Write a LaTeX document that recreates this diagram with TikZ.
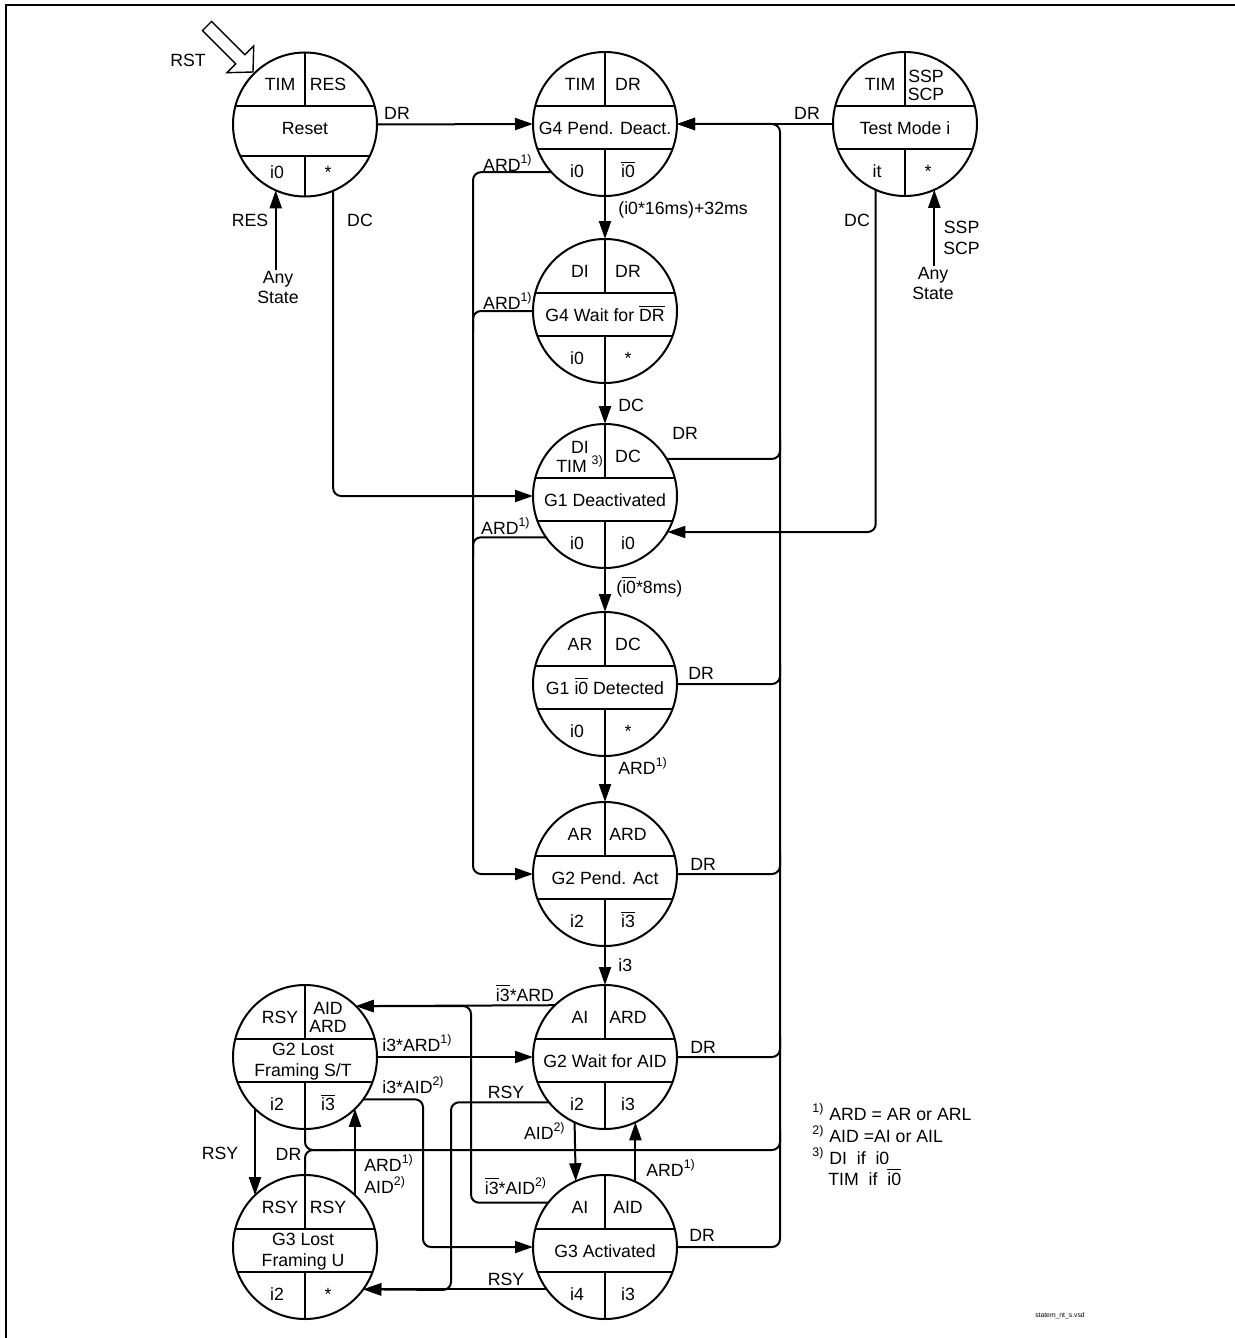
\documentclass[tikz,border=0pt]{standalone}
\usepackage{fontspec}
\setmainfont{Liberation Sans}
\usetikzlibrary{arrows.meta,calc}
\newcommand\ovl[1]{$\overline{\mbox{#1}}$}
\tikzset{
  conn/.style={line width=1pt, -{Triangle[length=9pt,width=6pt]}},
  plainln/.style={line width=1pt},
  stline/.style={line width=1pt},
  stcirc/.style={circle, draw, line width=1pt, minimum size=72pt, inner sep=0pt, outer sep=0pt},
  lbl/.style={inner sep=0pt, text height=6.35pt, text depth=0pt},
  ml/.style={inner sep=0pt, align=center},
}
% #1 lower band offset, #2 name, #3 cx, #4 cy, #5 UL, #6 UR, #7 mid, #8 LL, #9 LR
\newcommand\statecirc[9][25]{%
  \node[stcirc] (#2) at (#3,#4) {};
  \draw[stline] ({#3-sqrt(72*72-18*18)},#4-18) -- ({#3+sqrt(72*72-18*18)},#4-18);
  \draw[stline] ({#3-sqrt(72*72-#1*#1)},#4+#1) -- ({#3+sqrt(72*72-#1*#1)},#4+#1);
  \draw[stline] (#2.north) -- (#3,#4-18);
  \draw[stline] (#2.south) -- (#3,#4+#1);
  \node[lbl] at (#3-25,#4-40) {#5};
  \node[lbl] at (#3+23,#4-40) {#6};
  \node[lbl] at (#3,#4+4) {#7};
  \node[lbl] at (#3-28,#4+47.5) {#8};
  \node[lbl] at (#3+23,#4+47.5) {#9};
}
\begin{document}
\begin{tikzpicture}[x=0.5pt,y=-0.5pt, every node/.style={font=\fontsize{8.85}{10.5}\selectfont}]
\useasboundingbox (0,0) rectangle (1235,1338);
% frame
\draw[line width=1pt] (6,1338) -- (6,5) -- (1235,5);

% states
\statecirc[31]{reset}{305}{124.5}{TIM}{RES}{Reset}{i0}{*}
\statecirc{g4pd}{605}{124}{TIM}{DR}{G4 Pend. Deact.}{i0}{\ovl{i0}}
\statecirc{test}{905}{124}{TIM}{}{Test Mode i}{it}{*}
\node[ml, font=\fontsize{8.85}{9}\selectfont] at (926,85) {SSP\\SCP};
\statecirc{g4w}{605}{311}{DI}{DR}{G4 Wait for \ovl{DR}}{i0}{*}
\statecirc{g1d}{605}{496}{}{DC}{G1 Deactivated}{i0}{i0}
\node[ml, font=\fontsize{8.85}{9.5}\selectfont] at (580,456.5) {DI\\TIM \textsuperscript{3)}};
\statecirc{g1i}{605}{684}{AR}{DC}{G1 \ovl{i0} Detected}{i0}{*}
\statecirc{g2p}{605}{874}{AR}{ARD}{G2 Pend. Act}{i2}{\ovl{i3}}
\statecirc{g2w}{605}{1057}{AI}{ARD}{G2 Wait for AID}{i2}{i3}
\statecirc{g3a}{605}{1247}{AI}{AID}{G3 Activated}{i4}{i3}
\statecirc{g2l}{305}{1057}{RSY}{}{}{i2}{\ovl{i3}}
\node[ml, font=\fontsize{8.85}{9}\selectfont] at (328,1017) {AID\\ARD};
\node[ml, font=\fontsize{8.85}{10.5}\selectfont] at (303,1061.5) {G2 Lost\\Framing S/T};
\statecirc{g3l}{305}{1247}{RSY}{RSY}{}{i2}{*}
\node[ml, font=\fontsize{8.85}{10.5}\selectfont] at (303,1251.5) {G3 Lost\\Framing U};

% RST hollow arrow
\draw[line width=0.7pt, fill=white] (253,72) -- (226.9,72.7) -- (235.7,63.9) -- (202.4,30.6)
  -- (211.6,21.4) -- (244.9,54.7) -- (253.7,45.9) -- cycle;
\node[lbl] (rst) at (188,60) {RST};

% helper coordinates
\coordinate (rtop) at (780,124);
\coordinate (ltop) at (473,173);
\coordinate (drj) at (780,1150);
\coordinate (drk) at (340,1150);
\coordinate (jA) at (423,1247);
\coordinate (jB) at (451,1290);
\coordinate (jC) at (471,1006);

% Any State nodes
\node[ml, font=\fontsize{8.85}{10}\selectfont] (anyR) at (278,287) {Any\\State};
\node[ml, font=\fontsize{8.85}{10}\selectfont] (anyT) at (933,283) {Any\\State};

% top connectors
\draw[conn] (reset.east) -- (g4pd.west);
\draw[conn] (test.west) -- (g4pd.east);
\draw[conn] (reset.246.3 |- anyR.north) -- (reset.246.3);
\draw[conn] (test.-66.6 |- anyT.north) -- (test.-66.6);
\draw[conn, rounded corners=4pt] (reset.-67.1) |- (g1d.west);
\draw[conn, rounded corners=4pt] (test.246.3) |- (g1d.-30.9);

% central chain
\draw[conn] (g4pd.south) -- (g4w.north);
\draw[conn] (g4w.south) -- (g1d.north);
\draw[conn] (g1d.south) -- (g1i.north);
\draw[conn] (g1i.south) -- (g2p.north);
\draw[conn] (g2p.south) -- (g2w.north);

% right DR trunk
\draw[conn, rounded corners=4pt] (g3a.east) -| (rtop) -- (g4pd.east);
\draw[plainln, rounded corners=4pt] (g1d.31) -- (g1d.31 -| rtop) -- ++(0,-20);
\draw[plainln, rounded corners=4pt] (g1i.east) -- (g1i.east -| rtop) -- ++(0,-20);
\draw[plainln, rounded corners=4pt] (g2p.east) -- (g2p.east -| rtop) -- ++(0,-20);
\draw[plainln, rounded corners=4pt] (g2w.east) -- (g2w.east -| rtop) -- ++(0,-20);
\draw[plainln, rounded corners=4pt] (g2l.south) |- (drj) -- ++(0,-20);
\draw[plainln, rounded corners=4pt] (g3l.north) |- (drk);

% left ARD trunk
\draw[conn, rounded corners=4pt] (g4pd.222.9) -- (g4pd.222.9 -| ltop) |- (g2p.west);
\draw[plainln, rounded corners=4pt] (g4w.west) -- (g4w.west -| ltop) -- ++(0,20);
\draw[plainln, rounded corners=4pt] (g1d.215.7) -- (g1d.215.7 -| ltop) -- ++(0,20);

% bottom connectors
\draw[conn] (g2l.east) -- (g2w.west);
\draw[conn] (g2w.134.9) -- (g2l.45.1);
\draw[conn, rounded corners=4pt] (g3a.142.3) -| (jC) -- (g2l.45.1);
\draw[conn, rounded corners=4pt] (g2l.-36.7) -| (jA) -- (g3a.west);
\draw[conn, rounded corners=4pt] (g2w.219.7) -| (jB) -- (g3l.-36.7);
\draw[conn] (g3a.216.7) -- (g3l.-36.7);
\draw[conn] (g2w.245.4) -- (g3a.114.6);
\draw[conn] (g3a.65.4) -- (g2w.-65.4);
\draw[conn] (g2l.226) -- (g3l.134);
\draw[conn] (g3l.46) -- (g2l.-46);

% connector labels
\node[lbl] at (397,113) {DR};
\node[lbl] at (807,113) {DR};
\node[lbl] at (250,220) {RES};
\node[lbl] at (360,220) {DC};
\node[lbl] at (857,220) {DC};
\node[ml, anchor=west, font=\fontsize{8.85}{10.5}\selectfont] at (943,237.5) {SSP\\SCP};
\node[lbl, anchor=east] at (533,165) {ARD\textsuperscript{1)}};
\node[lbl, anchor=east] at (533,303) {ARD\textsuperscript{1)}};
\node[lbl, anchor=east] at (531,528) {ARD\textsuperscript{1)}};
\node[lbl, anchor=west] at (618,208) {(i0*16ms)+32ms};
\node[lbl, anchor=west] at (618,405) {DC};
\node[lbl, anchor=west] at (672,433) {DR};
\node[lbl, anchor=west] at (616,587) {(\ovl{i0}*8ms)};
\node[lbl, anchor=west] at (688,673) {DR};
\node[lbl, anchor=west] at (618,768) {ARD\textsuperscript{1)}};
\node[lbl, anchor=west] at (690,864) {DR};
\node[lbl, anchor=west] at (618,965) {i3};
\node[lbl] at (525,995) {\ovl{i3}*ARD};
\node[lbl, anchor=west] at (382,1045) {i3*ARD\textsuperscript{1)}};
\node[lbl, anchor=west] at (382,1087) {i3*AID\textsuperscript{2)}};
\node[lbl] at (506,1092) {RSY};
\node[lbl, anchor=east] at (566,1133) {AID\textsuperscript{2)}};
\node[lbl, anchor=west] at (646,1170) {ARD\textsuperscript{1)}};
\node[lbl] at (516,1188) {\ovl{i3}*AID\textsuperscript{2)}};
\node[lbl] at (506,1279) {RSY};
\node[lbl] at (220,1153) {RSY};
\node[lbl] at (288.5,1154) {DR};
\node[lbl, anchor=west] at (364,1165) {ARD\textsuperscript{1)}};
\node[lbl, anchor=west] at (364,1187) {AID\textsuperscript{2)}};
\node[lbl, anchor=west] at (690,1047) {DR};
\node[lbl, anchor=west] at (689,1235) {DR};

% footnotes
\node[lbl, anchor=west] at (812,1114) {\textsuperscript{1)} ARD = AR or ARL};
\node[lbl, anchor=west] at (812,1136) {\textsuperscript{2)} AID =AI or AIL};
\node[lbl, anchor=west] at (812,1158) {\textsuperscript{3)} DI\ \ if\ \ i0};
\node[lbl, anchor=west] at (828,1179) {TIM\ \ if\ \ \ovl{i0}};
\node[inner sep=0pt, font=\fontsize{3.4}{4}\selectfont] at (1060,1316) {statem\_nt\_s.vsd};
\end{tikzpicture}
\end{document}
